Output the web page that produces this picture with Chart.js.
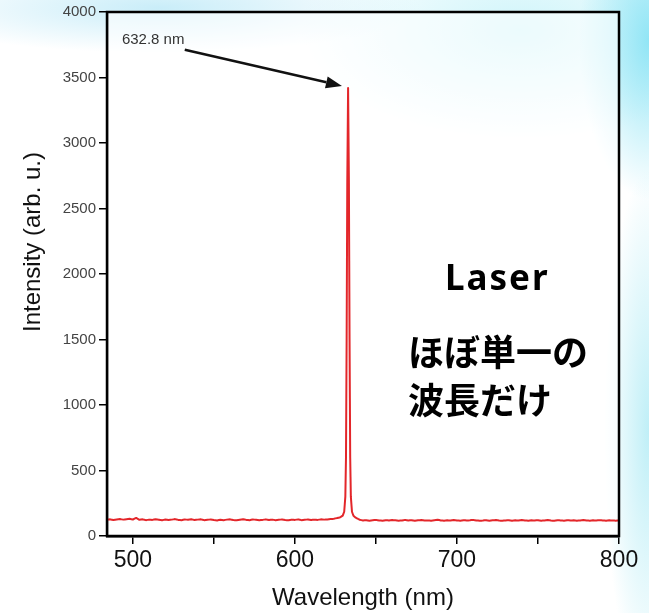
<!DOCTYPE html>
<html>
<head>
<meta charset="utf-8">
<script src="https://cdn.jsdelivr.net/npm/chart.js@4"></script>
<style>
    html, body { margin: 0; padding: 0; }
    body {
        width: 649px;
        height: 613px;
        overflow: hidden;
        background:
            radial-gradient(ellipse 70px 160px at 649px 40px, rgba(140,228,245,0.95), rgba(140,228,245,0)),
            radial-gradient(ellipse 260px 45px at 160px 8px, rgba(195,235,248,0.9), rgba(195,235,248,0)),
            radial-gradient(ellipse 220px 110px at 520px 30px, rgba(185,240,248,0.7), rgba(185,240,248,0)),
            radial-gradient(ellipse 45px 260px at 649px 430px, rgba(175,235,245,0.8), rgba(175,235,245,0)),
            #ffffff;
    }
    #wrap { position: relative; width: 649px; height: 613px; }
</style>
</head>
<body>
<div id="wrap"><canvas id="chartEspectro" width="649" height="613"></canvas></div>
<script>
// Datos del espectro del láser He-Ne
const wavelength = [
    484, 486, 488, 490, 492, 494, 496, 498, 500, 502,
    504, 506, 508, 510, 512, 514, 516, 518, 520, 522,
    524, 526, 528, 530, 532, 534, 536, 538, 540, 542,
    544, 546, 548, 550, 552, 554, 556, 558, 560, 562,
    564, 566, 568, 570, 572, 574, 576, 578, 580, 582,
    584, 586, 588, 590, 592, 594, 596, 598, 600, 602,
    604, 606, 608, 610, 612, 614, 616, 618, 620, 622,
    624,
    626, 628, 629.5, 630.4, 631.1, 631.5, 631.9, 632.3, 632.8, 633.3,
    633.7, 634.1, 634.5, 635.2, 636.1, 637.5, 639, 640,
    642, 644, 646, 648, 650, 652, 654, 656, 658, 660,
    662, 664, 666, 668, 670, 672, 674, 676, 678, 680,
    682, 684, 686, 688, 690, 692, 694, 696, 698, 700,
    702, 704, 706, 708, 710, 712, 714, 716, 718, 720,
    722, 724, 726, 728, 730, 732, 734, 736, 738, 740,
    742, 744, 746, 748, 750, 752, 754, 756, 758, 760,
    762, 764, 766, 768, 770, 772, 774, 776, 778, 780,
    782, 784, 786, 788, 790, 792, 794, 796, 798, 800
];

const intensity = [
    124, 127, 122, 126, 129, 125, 128, 131, 126, 138,
    124, 127, 121, 125, 123, 128, 124, 120, 126, 122,
    125, 129, 123, 121, 126, 124, 128, 122, 125, 127,
    121, 124, 126, 122, 119, 124, 121, 125, 127, 122,
    120, 124, 128, 123, 121, 126, 124, 120, 123, 127,
    122, 125, 121, 124, 126, 122, 120, 125, 123, 127,
    121, 124, 126, 122, 125, 123, 127, 125, 126, 129,
    132,
    137, 143, 156, 185, 300, 600, 1500, 2700, 3420, 2700,
    1500, 600, 300, 185, 155, 140, 130, 124,
    118, 121, 117, 120, 123, 119, 116, 121, 118, 122,
    120, 117, 119, 123, 118, 121, 116, 120, 122, 118,
    119, 117, 121, 124, 119, 116, 120, 118, 122, 119,
    117, 121, 118, 120, 123, 119, 116, 118, 121, 117,
    120, 122, 118, 116, 119, 121, 117, 120, 118, 122,
    119, 116, 120, 118, 121, 117, 119, 122, 118, 116,
    120, 119, 117, 121, 118, 120, 116, 119, 122, 118,
    117, 120, 118, 121, 119, 116, 120, 118, 117, 119
];

const xTicks = [500, 550, 600, 650, 700, 750, 800];
const xTickLabels = [500, 600, 700, 800];
const yTicks = [0, 500, 1000, 1500, 2000, 2500, 3000, 3500, 4000];

const peakLabel = '632.8 nm';
const textoLaser = 'Laser';
const textoLineas = ['ほぼ単一の', '波長だけ'];

// Fondo blanco semitransparente del área del gráfico
const fondoArea = {
    id: 'fondoArea',
    beforeDatasetsDraw(chart) {
        const { ctx, chartArea: a } = chart;
        ctx.save();
        ctx.fillStyle = 'rgba(255,255,255,0.6)';
        ctx.fillRect(a.left, a.top, a.width, a.height);
        ctx.restore();
    }
};

// Marco, flecha y textos
const anotaciones = {
    id: 'anotaciones',
    afterDraw(chart) {
        const { ctx, chartArea: a, scales: { x, y } } = chart;
        ctx.save();

        // marco completo
        ctx.strokeStyle = '#000';
        ctx.lineWidth = 2.5;
        ctx.strokeRect(a.left, a.top, a.width, a.height);

        // etiqueta del pico
        ctx.fillStyle = '#333';
        ctx.font = '15px "Liberation Sans", Arial, sans-serif';
        ctx.textBaseline = 'alphabetic';
        ctx.textAlign = 'left';
        ctx.fillText(peakLabel, x.getPixelForValue(493.2), y.getPixelForValue(3756));

        // flecha hacia el pico
        const x0 = x.getPixelForValue(532), y0 = y.getPixelForValue(3712);
        const x1 = x.getPixelForValue(629), y1 = y.getPixelForValue(3436);
        const ang = Math.atan2(y1 - y0, x1 - x0);
        const largo = 16, ancho = 6;
        const bx = x1 - largo * Math.cos(ang), by = y1 - largo * Math.sin(ang);
        ctx.strokeStyle = '#111';
        ctx.lineWidth = 2.5;
        ctx.beginPath();
        ctx.moveTo(x0, y0);
        ctx.lineTo(bx, by);
        ctx.stroke();
        ctx.fillStyle = '#111';
        ctx.beginPath();
        ctx.moveTo(x1, y1);
        ctx.lineTo(bx + ancho * Math.sin(ang), by - ancho * Math.cos(ang));
        ctx.lineTo(bx - ancho * Math.sin(ang), by + ancho * Math.cos(ang));
        ctx.closePath();
        ctx.fill();

        // título del eje Y
        ctx.fillStyle = '#111';
        ctx.font = '24px "Liberation Sans", Arial, sans-serif';
        ctx.textAlign = 'center';
        ctx.textBaseline = 'middle';
        ctx.translate(33, 242);
        ctx.rotate(-Math.PI / 2);
        ctx.fillText('Intensity (arb. u.)', 0, 0);
        ctx.setTransform(1, 0, 0, 1, 0, 0);

        // textos en japonés
        ctx.fillStyle = '#000';
        ctx.textAlign = 'left';
        ctx.textBaseline = 'alphabetic';
        ctx.font = 'bold 35px "Noto Sans", sans-serif';
        ctx.letterSpacing = '2px';
        ctx.fillText(textoLaser, 445, 290);
        ctx.letterSpacing = '0px';
        ctx.font = 'bold 36px "Noto Sans CJK JP", sans-serif';
        ctx.fillText(textoLineas[0], 408, 366);
        ctx.fillText(textoLineas[1], 408, 414);

        ctx.restore();
    }
};

const ctx = document.getElementById('chartEspectro');
window.chartEspectroInstance = new Chart(ctx, {
    type: 'line',
    data: {
        datasets: [{
            label: 'Intensity',
            data: wavelength.map((w, i) => ({ x: w, y: intensity[i] })),
            borderColor: '#e3262a',
            borderWidth: 2,
            borderJoinStyle: 'round',
            borderCapStyle: 'round',
            pointRadius: 0,
            tension: 0.0001, // evita el "fast path" que deja artefactos en el pico
            fill: false
        }]
    },
    options: {
        responsive: false,
        animation: false,
        layout: { padding: { left: 0, right: 30, top: 11, bottom: 0 } },
        plugins: {
            legend: { display: false },
            tooltip: { enabled: false }
        },
        scales: {
            x: {
                type: 'linear',
                min: 484,
                max: 800,
                afterBuildTicks: s => { s.ticks = xTicks.map(v => ({ value: v })); },
                afterFit: s => { s.height = 613 - 536; },
                ticks: {
                    autoSkip: false,
                    maxRotation: 0,
                    padding: 3,
                    color: '#111',
                    font: { size: 23, family: '"Liberation Sans", Arial, sans-serif' },
                    callback: v => xTickLabels.includes(v) ? String(v) : ''
                },
                grid: { drawOnChartArea: false, drawTicks: true, tickLength: 8, color: '#000', lineWidth: 1.5 },
                border: { display: true, color: '#000', width: 2.5 },
                title: {
                    display: true,
                    text: 'Wavelength (nm)',
                    color: '#111',
                    font: { size: 24, family: '"Liberation Sans", Arial, sans-serif' },
                    padding: { top: 0, bottom: 0 }
                }
            },
            y: {
                min: 0,
                max: 4000,
                afterBuildTicks: s => { s.ticks = yTicks.map(v => ({ value: v })); },
                afterFit: s => { s.width = 107; },
                ticks: {
                    autoSkip: false,
                    padding: 3,
                    color: '#444',
                    font: { size: 15, family: '"Liberation Sans", Arial, sans-serif' },
                    callback: v => String(v)
                },
                grid: { drawOnChartArea: false, drawTicks: true, tickLength: 8, color: '#000', lineWidth: 1.5 },
                border: { display: true, color: '#000', width: 2.5 }
            }
        }
    },
    plugins: [fondoArea, anotaciones]
});
</script>
</body>
</html>
